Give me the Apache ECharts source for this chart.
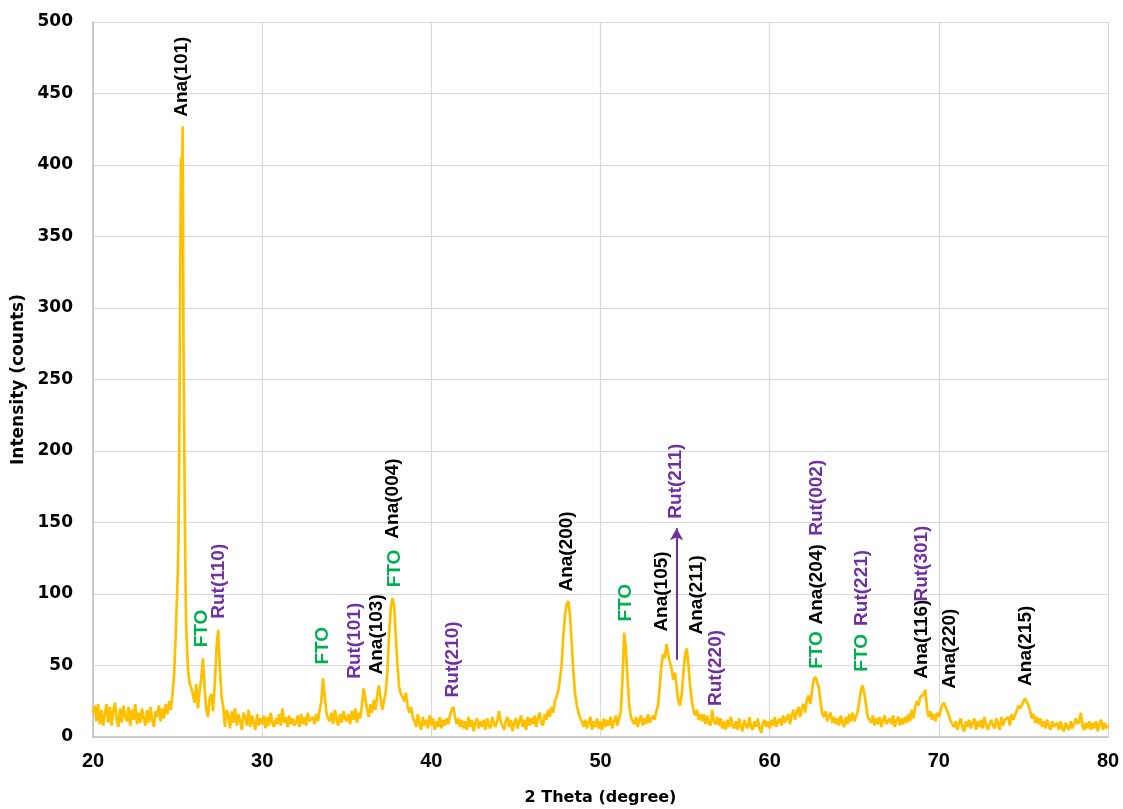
<!DOCTYPE html>
<html>
<head>
<meta charset="utf-8">
<script src="https://cdn.jsdelivr.net/npm/echarts@6/dist/echarts.min.js"></script>
<style>html,body{margin:0;padding:0;background:#fff}#c{width:1123px;height:809px}</style>
</head>
<body>
<div id="c"></div>
<script>
// Intensity readings, 0.1 degree steps
const seg20 = [17,22,11,23,9,19,8,16,23,10,21,8,18,24,12,7,20,10,22,14,11,21,8,19,12,23,9,17,10,20,13,8,19,10,21,12,7,18,14,22,11,20,13,23,16,25,19,30,45,75];
const mainPeak = [[25.0,110],[25.05,135],[25.1,200],[25.15,310],[25.2,405],[25.25,380],[25.3,427],[25.35,275],[25.4,200],[25.45,130],[25.5,80],[25.6,50],[25.7,38],[25.8,35],[25.9,30]];
const seg26 = [24,37,20,32,41,55,33,19,14,27,30,18,37,62,75,48,28,21,7,19,15,6,18,10,20,8,16,11,5,17,14,8,19,7,15,10,5,16,8,13];
const seg30 = [9,15,6,14,8,17,10,7,13,9,16,8,20,10,14,7,15,9,13,8,10,15,7,16,9,14,8,17,11,10,14,9,16,11,19,25,41,28,17,13,11,17,9,19,12,8,16,10,18,13,11,16,9,18,12,20,10,17,13,22,34,27,19,14,23,17,26,19,29,36,27,19,25,31,45,70,90,97,92,70,50,35,30,28,25,31,21,17,21,14,11,7,16,9,5,14,8,12,6,15];
const seg40 = [8,13,5,11,7,14,6,12,8,13,9,15,19,21,14,9,13,7,12,6,11,5,14,7,12,4,10,13,6,11,7,12,5,13,8,6,14,9,7,12,18,11,8,5,11,14,7,12,4,10,13,6,11,15,7,12,5,14,8,13,9,15,7,13,17,10,8,16,12,19,14,21,17,25,28,32,40,50,70,85,93,95,85,65,45,30,22,17,13,11,7,12,6,10,14,5,11,7,13,6];
const seg50 = [11,5,13,7,12,8,14,6,11,15,8,13,18,40,73,62,40,22,14,11,9,14,7,12,15,8,13,9,16,10,11,15,12,18,22,35,50,58,55,65,58,52,48,40,45,35,25,22,30,45,58,62,50,35,25,19,15,19,12,16,11,16,9,15,10,8,19,11,9,14,8,13,6,11,5,12,7,14,8,6,11,5,13,7,4,12,8,6,14,7,5,11,7,13,6,3,10,12,7,11];
const seg60 = [6,12,8,14,7,11,13,8,15,10,13,16,9,15,19,12,17,21,14,20,23,17,26,29,23,32,40,42,43,35,25,17,14,18,11,15,17,10,14,9,13,8,15,10,7,14,9,16,11,17,11,14,18,25,33,36,30,22,14,12,10,15,8,13,9,14,7,12,15,9,8,13,9,15,7,12,14,8,13,9,14,10,16,11,19,13,21,25,22,28,28,30,33,20,14,18,12,16,11,17];
const seg70 = [14,18,22,24,21,18,15,11,9,7,11,5,10,13,6,4,11,7,12,6,10,13,5,11,7,12,6,14,8,5,9,12,8,6,13,9,5,14,8,12,11,14,8,16,12,15,18,22,20,22,25,27,28,22,18,13,16,10,14,9,13,7,11,6,12,8,5,11,7,6,10,5,11,6,4,10,7,5,11,6,7,13,9,11,17,7,5,10,6,11,5,10,6,11,4,9,12,5,10,6,8];

// Peak annotations
const annNames = ['Ana(101)','FTO','Rut(110)','FTO','Rut(101)','Ana(103)','FTO','Ana(004)','Rut(210)','Ana(200)','FTO','Ana(105)','Rut(211)','Ana(211)','Rut(220)','FTO','Ana(204)','Rut(002)','FTO','Rut(221)','Ana(116)','Rut(301)','Ana(220)','Ana(215)'];
const annX = [25.32,26.5,27.5,33.65,35.55,36.85,37.9,37.8,41.35,48.07,51.55,53.7,54.5,55.75,56.9,62.85,62.85,62.85,65.5,65.5,69.05,69.05,70.7,75.2];
const annY = [433,62,82,50,40,43,104,138,27,101,80,73,152,71,21,47,78,140,45,77,40,94,33,35];
const annType = ['A','F','R','F','R','A','F','A','R','A','F','A','R','A','R','F','A','R','F','R','A','R','A','A'];
const arrowX = 54.5, arrowFrom = 54, arrowTo = 146;

const typeColor = {A:'#000000', R:'#7030A0', F:'#00B050'};

const lineData = [];
function addSeg(start, vals){ vals.forEach((v,i)=>lineData.push([Math.round((start+i*0.1)*100)/100, v])); }
addSeg(20, seg20);
mainPeak.forEach(p=>lineData.push(p));
addSeg(26, seg26);
addSeg(30, seg30);
addSeg(40, seg40);
addSeg(50, seg50);
addSeg(60, seg60);
addSeg(70, seg70);

const annData = annNames.map((n,i)=>({
  name:n, value:[annX[i], annY[i]],
  label:{color:typeColor[annType[i]]}
}));

const tickFont = "'DejaVu Sans',sans-serif";
const chart = echarts.init(document.getElementById('c'), null, {renderer:'canvas'});
chart.setOption({
  animation:false,
  backgroundColor:'#ffffff',
  grid:{left:93, right:15, top:22, bottom:72, containLabel:false, outerBoundsMode:'none'},
  xAxis:{
    type:'value', min:20, max:80, interval:10,
    name:'2 Theta (degree)', nameLocation:'middle', nameGap:53,
    nameTextStyle:{fontFamily:tickFont, fontWeight:'bold', fontSize:16, color:'#000'},
    axisLine:{show:true, lineStyle:{color:'#BFBFBF', width:1.5}},
    axisTick:{show:false},
    axisLabel:{fontFamily:"'Liberation Sans',sans-serif", fontWeight:'bold', fontSize:20, color:'#000', margin:14},
    splitLine:{show:true, lineStyle:{color:'#D9D9D9', width:1.2}}
  },
  yAxis:{
    type:'value', min:0, max:500, interval:50,
    name:'Intensity (counts)', nameLocation:'middle', nameGap:64,
    nameTextStyle:{fontFamily:tickFont, fontWeight:'bold', fontSize:17, color:'#000'},
    axisLine:{show:true, lineStyle:{color:'#BFBFBF', width:1.5}},
    axisTick:{show:false},
    axisLabel:{fontFamily:tickFont, fontWeight:'bold', fontSize:17, color:'#000', margin:20},
    splitLine:{show:true, lineStyle:{color:'#D9D9D9', width:1.2}}
  },
  series:[
    {
      type:'line', data:lineData, showSymbol:false, symbol:'none',
      lineStyle:{color:'#FFC000', width:2.7}, itemStyle:{color:'#FFC000'},
      z:2,
      markLine:{
        silent:true, symbol:['none','arrow'], symbolSize:[10,12],
        label:{show:false},
        lineStyle:{color:'#7030A0', width:2, type:'solid'},
        data:[[{coord:[arrowX, arrowFrom]},{coord:[arrowX, arrowTo]}]]
      }
    },
    {
      type:'scatter', data:annData, symbolSize:2, itemStyle:{color:'rgba(0,0,0,0)'}, z:5,
      labelLayout:{hideOverlap:false},
      label:{
        show:true, formatter:p=>p.name, rotate:90, position:[0,0],
        align:'left', verticalAlign:'middle', opacity:1,
        fontFamily:"'Liberation Sans',Arial,sans-serif", fontWeight:'bold', fontSize:19
      }
    }
  ]
});
</script>
</body>
</html>
